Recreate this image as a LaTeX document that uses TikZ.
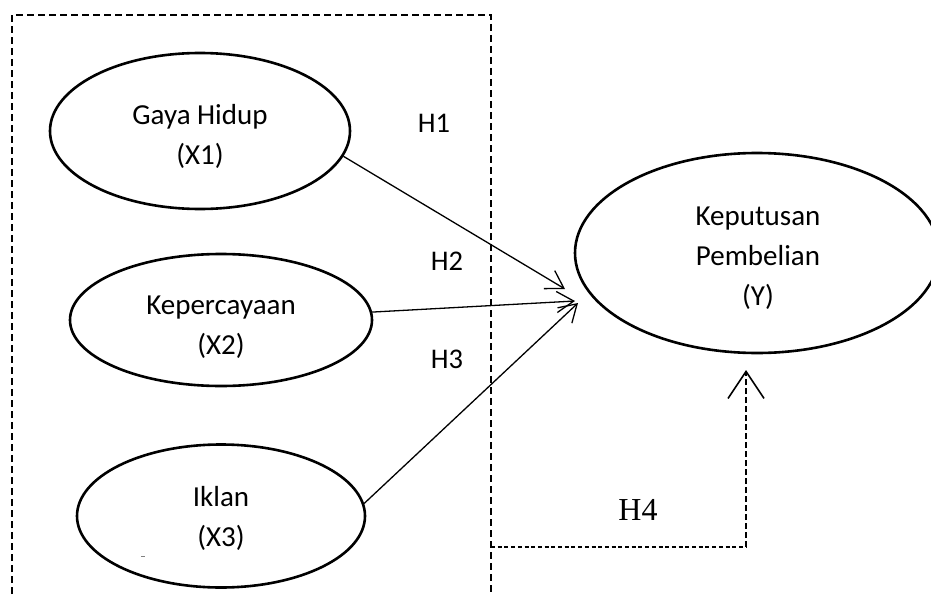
\documentclass[tikz,border=0pt]{standalone}
\usepackage{fontspec}
\setmainfont{Carlito}
\newfontfamily\timesf{Liberation Serif}
\usetikzlibrary{shapes.geometric,arrows.meta}
\begin{document}
\begin{tikzpicture}[x=1pt,y=-1pt,
  var/.style={ellipse, draw, line width=2.6pt, inner sep=0pt},
  vtext/.style={font=\fontsize{29}{40}\selectfont, align=center, inner sep=0pt},
  hlab/.style={font=\fontsize{28.5}{34}\selectfont, inner sep=0pt},
  hfour/.style={font=\timesf\fontsize{32}{38}\selectfont, inner sep=0pt},
  effect/.style={line width=1.3pt, -{Straight Barb[length=17pt,width=21pt,line width=1.3pt]}},
  boxline/.style={line width=2pt, dash pattern=on 7pt off 4pt},
  hfourh/.style={line width=1.4pt, dash pattern=on 4pt off 2.7pt},
  hfourv/.style={line width=2pt, dash pattern=on 6pt off 3pt, -{Straight Barb[length=27pt,width=36pt,line width=1.6pt]}},
]
\useasboundingbox (0,0) rectangle (931,594);
% dashed frame
\coordinate (bl) at (12,594);
\coordinate (tl) at (12,15);
\coordinate (tr) at (491,15);
\coordinate (br) at (491,594);
\draw[boxline] (bl) -- (tl) -- (tr) -- (br);
% variables
\node[var, minimum width=300pt, minimum height=156pt] (X1) at (200,131) {};
\node[var, minimum width=302pt, minimum height=132pt] (X2) at (221,320) {};
\node[var, minimum width=288pt, minimum height=143pt] (X3) at (221,516) {};
\node[var, minimum width=364pt, minimum height=200pt] (Y) at (757,253) {};
\node[vtext] (X1t) at (200,136) {Gaya Hidup\\(X1)};
\node[vtext] (X2t) at (221,327) {Kepercayaan\\(X2)};
\node[vtext] (X3t) at (221,518) {Iklan\\(X3)};
\node[vtext] (Yt) at (758,258) {Keputusan\\Pembelian\\(Y)};
\draw[line width=1pt, gray] (141,556) -- (145,556);
% hypotheses arrows
\coordinate (t1) at (565,289);
\coordinate (t2) at (575,301);
\coordinate (t3) at (578,303);
\draw[effect] (X1.-10) -- (t1);
\draw[effect] (X2.3) -- (t2);
\draw[effect] (X3.5) -- (t3);
% labels
\node[hlab] (h1) at (434,123) {H1};
\node[hlab] (h2) at (447,261) {H2};
\node[hlab] (h3) at (447,359) {H3};
\node[hfour] (h4) at (638,510) {H4};
% H4 path
\coordinate (h4a) at (491,547);
\coordinate (h4b) at (746,547);
\coordinate (h4c) at (746,370);
\draw[hfourh] (h4a) -- (h4b);
\draw[hfourv] (h4b) -- (h4c);
\end{tikzpicture}
\end{document}
